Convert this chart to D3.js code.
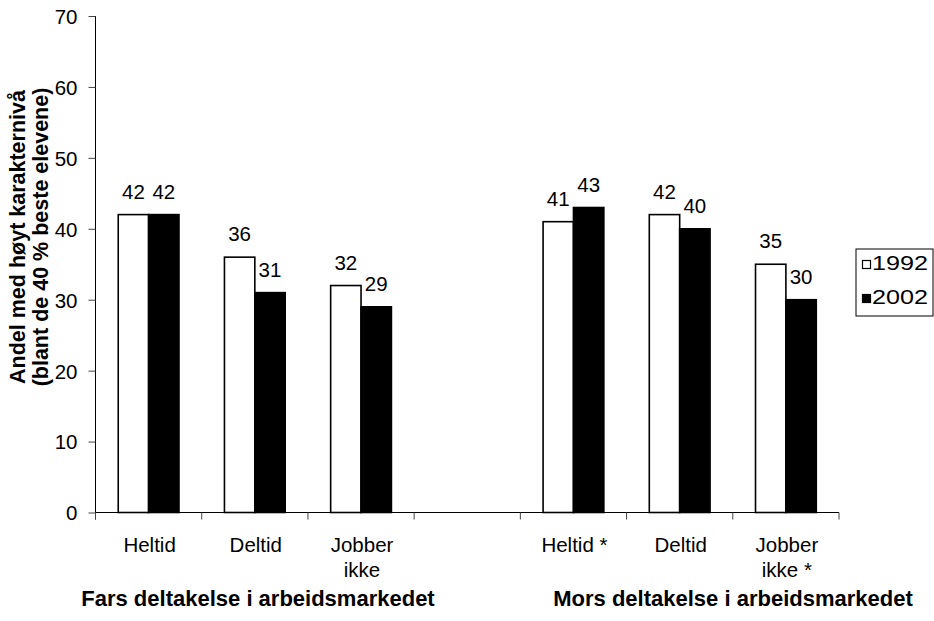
<!DOCTYPE html>
<html>
<head>
<meta charset="utf-8">
<script src="https://cdn.jsdelivr.net/npm/d3@7"></script>
<style>
  html, body { margin: 0; padding: 0; background: #fff; }
  svg text { font-family: "Liberation Sans", Arial, sans-serif; fill: #000; }
</style>
</head>
<body>
<svg id="chart" width="934" height="621"></svg>
<script>
// Categories on the x axis (one empty slot separates father / mother groups)
const categories = [["Heltid"], ["Deltid"], ["Jobber", "ikke"], [], ["Heltid *"], ["Deltid"], ["Jobber", "ikke *"]];
const seriesNames = ["1992", "2002"];
const values1992 = [42, 36, 32, null, 41, 42, 35];
const values2002 = [42, 31, 29, null, 43, 40, 30];
const yTicks = [0, 10, 20, 30, 40, 50, 60, 70];
const groupTitles = ["Fars deltakelse i arbeidsmarkedet", "Mors deltakelse i arbeidsmarkedet"];
const yTitle = ["Andel med høyt karakternivå", "(blant de 40 % beste elevene)"];

const seriesFill = { "1992": "#ffffff", "2002": "#000000" };
const FS = 20.5;   // regular text size
const FSB = 21.5;  // bold axis title
const FST = 22;    // bold group titles

const svg = d3.select("#chart");
const plotL = 95.5, plotR = 839, plotT = 16, plotB = 512.5;

const x = d3.scaleBand().domain(d3.range(categories.length)).range([plotL, plotR]).padding(0);
const y = d3.scaleLinear().domain([0, 70]).range([plotB, plotT]);
const groupW = x.bandwidth() * 0.572;
const x1 = d3.scaleBand().domain(seriesNames).range([0, groupW]).padding(0);
const off = (x.bandwidth() - groupW) / 2;

const rows = [];
categories.forEach((c, i) => {
  [values1992, values2002].forEach((vals, k) => {
    if (vals[i] != null) rows.push({ i, s: seriesNames[k], v: vals[i] });
  });
});

// Bars
svg.append("g").selectAll("rect").data(rows).join("rect")
  .attr("x", d => x(d.i) + off + x1(d.s))
  .attr("y", d => y(d.v))
  .attr("width", x1.bandwidth())
  .attr("height", d => y(0) - y(d.v))
  .attr("fill", d => seriesFill[d.s])
  .attr("stroke", "#000")
  .attr("stroke-width", 1.6);

// Value labels
svg.append("g").selectAll("text").data(rows).join("text")
  .attr("x", d => x(d.i) + off + x1(d.s) + x1.bandwidth() / 2)
  .attr("y", d => y(d.v) - 16)
  .attr("text-anchor", "middle")
  .attr("font-size", FS)
  .text(d => Math.round(d.v));

// Y axis
const yAxis = svg.append("g").attr("transform", `translate(${plotL},0)`)
  .call(d3.axisLeft(y).tickValues(yTicks).tickSize(7).tickPadding(0).tickFormat(d3.format("d")));
yAxis.select(".domain").attr("stroke", "#000").attr("d", `M0,${plotT}V${plotB + 7}`);
yAxis.selectAll(".tick line").attr("stroke", "#444");
yAxis.selectAll(".tick text")
  .attr("font-size", FS)
  .attr("font-family", "Liberation Sans, Arial, sans-serif")
  .attr("x", -18).attr("dy", "0.36em");

// X axis
const xAxis = svg.append("g").attr("transform", `translate(0,${plotB})`);
xAxis.append("line").attr("x1", plotL).attr("x2", plotR).attr("stroke", "#000");
xAxis.selectAll("line.tk").data(d3.range(categories.length + 1)).join("line")
  .attr("class", "tk")
  .attr("x1", i => plotL + i * x.bandwidth()).attr("x2", i => plotL + i * x.bandwidth())
  .attr("y1", 0).attr("y2", 7).attr("stroke", "#444");

// Category labels
categories.forEach((lines, i) => {
  lines.forEach((ln, j) => {
    svg.append("text")
      .attr("x", x(i) + x.bandwidth() / 2 + 1)
      .attr("y", 551.5 + j * 25.7)
      .attr("text-anchor", "middle")
      .attr("font-size", FS)
      .text(ln);
  });
});

// Group titles
const titleX = [258, 733];
groupTitles.forEach((t, k) => {
  svg.append("text")
    .attr("x", titleX[k]).attr("y", 605.5)
    .attr("text-anchor", "middle")
    .attr("font-size", FST)
    .attr("font-weight", "bold")
    .text(t);
});

// Y axis title
yTitle.forEach((t, k) => {
  svg.append("text")
    .attr("transform", `translate(${24.5 + k * 23.5},237) rotate(-90)`)
    .attr("text-anchor", "middle")
    .attr("font-size", FSB)
    .attr("font-weight", "bold")
    .text(t);
});

// Legend
const lg = svg.append("g").attr("transform", "translate(856,249)");
lg.append("rect").attr("width", 77).attr("height", 67)
  .attr("fill", "#fff").attr("stroke", "#000").attr("stroke-width", 1);
seriesNames.forEach((s, k) => {
  const gy = 11 + k * 34;
  lg.append("rect").attr("x", 6.5).attr("y", gy + 0.5).attr("width", 8).attr("height", 8)
    .attr("fill", seriesFill[s]).attr("stroke", "#000").attr("stroke-width", 1.2);
  lg.append("text")
    .attr("x", 16).attr("y", gy + 9.5)
    .attr("font-size", FS)
    .attr("textLength", 56)
    .attr("lengthAdjust", "spacingAndGlyphs")
    .text(s);
});
</script>
</body>
</html>
